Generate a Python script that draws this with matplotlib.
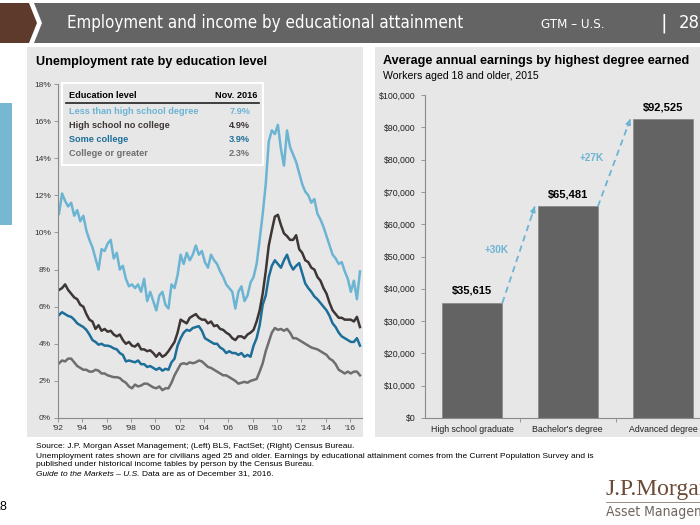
import numpy as np
import pandas as pd
import matplotlib
matplotlib.use('Agg')
import matplotlib.pyplot as plt
from matplotlib.patches import Rectangle, Polygon

plt.rcParams['font.family'] = ['Liberation Sans', 'DejaVu Sans']

W, H = 700, 525

# unemployment rate, civilians 25+, every 3 months (Feb 1992 - Nov 2016)
dates = pd.date_range('1992-02-01', '2016-11-01', freq='3MS')
less_than_hs = [11.0, 12.1, 11.7, 11.4, 11.6, 10.9, 11.2, 10.6, 10.9, 10.1, 9.6, 9.2,
                8.6, 8.0, 9.1, 9.0, 9.4, 9.6, 8.6, 8.9, 8.0, 8.2, 7.5, 7.1,
                7.2, 7.0, 7.2, 6.8, 7.5, 6.3, 6.8, 6.3, 5.8, 6.6, 6.8, 6.1,
                5.9, 7.2, 7.0, 7.7, 8.8, 8.3, 8.9, 8.5, 8.8, 9.3, 8.8, 9.0,
                8.4, 8.1, 8.8, 8.5, 8.3, 7.9, 7.6, 7.2, 7.0, 6.8, 5.9, 6.8,
                7.1, 6.3, 6.6, 7.3, 7.6, 8.3, 9.6, 11.0, 12.6, 14.9, 15.5, 15.3,
                15.8, 14.5, 13.6, 15.5, 14.6, 14.2, 13.8, 13.2, 12.6, 12.2, 12.0, 11.6,
                11.8, 11.0, 10.7, 10.3, 9.8, 9.3, 8.8, 8.6, 8.3, 8.4, 7.9, 7.5,
                6.8, 7.4, 6.4, 7.9]
hs_no_college = [6.9, 7.0, 7.2, 6.9, 6.7, 6.5, 6.4, 6.1, 6.0, 5.6, 5.3, 5.2,
                 4.8, 5.0, 4.7, 4.8, 4.65, 4.7, 4.5, 4.4, 4.5, 4.2, 4.0, 4.1,
                 3.9, 3.85, 4.0, 3.7, 3.7, 3.6, 3.65, 3.5, 3.3, 3.5, 3.3, 3.4,
                 3.6, 3.85, 4.1, 4.6, 5.3, 5.2, 5.1, 5.4, 5.5, 5.6, 5.4, 5.3,
                 5.3, 5.1, 5.2, 4.95, 5.0, 4.8, 4.75, 4.6, 4.5, 4.3, 4.2, 4.4,
                 4.4, 4.3, 4.5, 4.6, 4.75, 5.2, 5.8, 6.7, 7.9, 9.3, 10.1, 10.85,
                 10.95, 10.4, 9.95, 9.8, 9.6, 9.6, 9.85, 9.1, 8.9, 8.5, 8.4, 8.1,
                 8.0, 7.6, 7.4, 7.0, 6.7, 6.2, 5.8, 5.6, 5.4, 5.4, 5.3, 5.3,
                 5.3, 5.2, 5.45, 4.9]
some_college = [5.55, 5.7, 5.6, 5.5, 5.45, 5.3, 5.1, 5.0, 4.9, 4.75, 4.5, 4.2,
                4.1, 3.95, 4.0, 3.9, 3.9, 3.85, 3.75, 3.7, 3.5, 3.4, 3.05, 3.1,
                3.05, 3.0, 3.1, 2.9, 2.9, 2.75, 2.8, 2.7, 2.6, 2.7, 2.55, 2.65,
                2.6, 3.0, 3.2, 3.9, 4.3, 4.6, 4.75, 4.7, 4.85, 4.9, 4.95, 4.7,
                4.3, 4.2, 4.1, 4.0, 4.0, 3.8, 3.7, 3.5, 3.6, 3.5, 3.5, 3.4,
                3.5, 3.3, 3.4, 3.3, 3.9, 4.3, 5.0, 6.1, 6.6, 7.6, 8.2, 8.5,
                8.3, 8.1, 8.5, 8.8, 8.3, 8.0, 8.2, 8.35, 7.8, 7.25, 7.0, 6.8,
                6.55, 6.4, 6.2, 6.0, 5.8, 5.5, 5.1, 4.9, 4.6, 4.4, 4.3, 4.2,
                4.1, 4.1, 4.3, 3.9]
college = [2.95, 3.1, 3.05, 3.2, 3.2, 3.0, 2.8, 2.7, 2.6, 2.6, 2.5, 2.5,
           2.6, 2.55, 2.4, 2.4, 2.3, 2.25, 2.2, 2.2, 2.15, 2.0, 1.9, 1.7,
           1.6, 1.8, 1.7, 1.75, 1.85, 1.85, 1.75, 1.65, 1.6, 1.7, 1.5, 1.6,
           1.6, 1.9, 2.3, 2.6, 2.9, 2.95, 2.9, 3.0, 2.95, 3.0, 3.1, 3.05,
           2.9, 2.75, 2.7, 2.6, 2.5, 2.4, 2.3, 2.3, 2.2, 2.1, 2.0, 1.85,
           1.9, 1.95, 1.9, 2.0, 2.05, 2.1, 2.5, 2.95, 3.6, 4.1, 4.6, 4.85,
           4.75, 4.8, 4.7, 4.8, 4.6, 4.3, 4.3, 4.2, 4.1, 4.0, 3.9, 3.8,
           3.75, 3.7, 3.6, 3.5, 3.4, 3.2, 3.1, 2.9, 2.6, 2.5, 2.4, 2.5,
           2.4, 2.5, 2.5, 2.3]

series_names = ['Less than high school degree', 'High school no college',
                'Some college', 'College or greater']
latest = ['7.9%', '4.9%', '3.9%', '2.3%']
colors = ['#6cb4d3', '#3e3635', '#1d6e98', '#6e6e6e']

# average annual earnings, 2015
degrees = ['High school graduate', "Bachelor's degree", 'Advanced degree']
earnings = [35615, 65481, 92525]
steps = ['+30K', '+27K']


def fx(x):
    return x / W


def fy(y):
    return 1 - y / H


def fit_width(t, width_px):
    # shrink a header text so it spans the same width as in the original slide
    r = fig.canvas.get_renderer()
    w = t.get_window_extent(renderer=r).width
    t.set_fontsize(t.get_fontsize() * width_px / w)


fig = plt.figure(figsize=(7, 5.25), dpi=100)
fig.patch.set_facecolor('white')

# header band
fig.patches.append(Polygon([(fx(0), fy(3)), (fx(29), fy(3)), (fx(37), fy(23)),
                            (fx(29), fy(43)), (fx(0), fy(43))],
                           closed=True, transform=fig.transFigure,
                           facecolor='#5d3a2b', edgecolor='none', zorder=-1))
fig.patches.append(Polygon([(fx(34), fy(3)), (fx(700), fy(3)), (fx(700), fy(43)),
                            (fx(34), fy(43)), (fx(42), fy(23))],
                           closed=True, transform=fig.transFigure,
                           facecolor='#646464', edgecolor='none', zorder=-1))
hdr_font = ['DejaVu Sans']
title = fig.text(fx(67), fy(23), 'Employment and income by educational attainment',
                 color='white', fontsize=14, family=hdr_font, stretch='condensed',
                 va='center')
gtm = fig.text(fx(541), fy(24), 'GTM – U.S.', color='white', fontsize=10,
               family=hdr_font, stretch='condensed', va='center')
fig.text(fx(664), fy(23), '|', color='white', fontsize=14, family=hdr_font,
         va='center', ha='center')
page = fig.text(fx(679), fy(23), '28', color='white', fontsize=14, family=hdr_font,
                stretch='condensed', va='center')
fit_width(title, 400)
fit_width(gtm, 64)
fit_width(page, 21)

# side tab and panels
fig.patches.append(Rectangle((fx(0), fy(225)), fx(12), 122 / H,
                             transform=fig.transFigure, facecolor='#78b7d2',
                             edgecolor='none', zorder=-1))
fig.patches.append(Rectangle((fx(27), fy(437)), fx(336), 390 / H,
                             transform=fig.transFigure, facecolor='#e7e7e7',
                             edgecolor='none', zorder=-1))
fig.patches.append(Rectangle((fx(375), fy(437)), fx(330), 390 / H,
                             transform=fig.transFigure, facecolor='#e7e7e7',
                             edgecolor='none', zorder=-1))

# ---- left: unemployment rate ----
ax1 = fig.add_axes([fx(58), fy(418), fx(304), 334 / H])
ax1.set_facecolor('none')
x = dates.year + (dates.month - 1) / 12
for vals, c in zip([less_than_hs, college, some_college, hs_no_college],
                   [colors[0], colors[3], colors[2], colors[1]]):
    ax1.plot(x, vals, color=c, lw=1.8, solid_joinstyle='round')
ax1.set_xlim(1992, 2017)
ax1.set_ylim(0, 18)
ax1.set_yticks(np.arange(0, 19, 2))
ax1.set_yticklabels([f'{v}%' for v in range(0, 19, 2)])
yrs = np.arange(1992, 2017, 2)
ax1.set_xticks(yrs)
ax1.set_xticklabels([f"'{y % 100:02d}" for y in yrs])
for s in ['top', 'right']:
    ax1.spines[s].set_visible(False)
for s in ['left', 'bottom']:
    ax1.spines[s].set_color('#8a8a8a')
    ax1.spines[s].set_linewidth(0.8)
ax1.tick_params(length=3, width=0.6, color='#8a8a8a', labelsize=6,
                labelcolor='#333333', pad=2)

fig.text(fx(36), fy(62), 'Unemployment rate by education level',
         fontsize=9.1, fontweight='bold', va='center')

# legend table
fig.patches.append(Rectangle((fx(62), fy(165)), fx(201), 82 / H,
                             transform=fig.transFigure, facecolor='#e7e7e7',
                             edgecolor='white', lw=1.5, zorder=1))
fig.text(fx(69), fy(95), 'Education level', fontsize=6.6, fontweight='bold',
         va='center', zorder=3)
fig.text(fx(257), fy(95), 'Nov. 2016', fontsize=6.6, fontweight='bold',
         va='center', ha='right', zorder=3)
fig.lines.append(plt.Line2D([fx(66), fx(259)], [fy(103), fy(103)],
                            transform=fig.transFigure, color='#222222', lw=1.2))
for i, (name, val, c) in enumerate(zip(series_names, latest, colors)):
    yy = 112 + i * 14
    fig.text(fx(69), fy(yy), name, fontsize=6.6, fontweight='bold', color=c,
             va='center', zorder=3)
    fig.text(fx(250), fy(yy), val, fontsize=6.6, fontweight='bold', color=c,
             va='center', ha='right', zorder=3)

# ---- right: earnings ----
ax2 = fig.add_axes([fx(424.5), fy(418), 286.5 / W, 323 / H])
ax2.set_facecolor('none')
pos = np.arange(len(degrees))
bw = 0.63
ax2.bar(pos, earnings, width=bw, color='#636363', edgecolor='#8a8a8a', lw=0.6)
for p, v in zip(pos, earnings):
    ax2.text(p, v + 2200, f'${v:,}', ha='center', va='bottom', fontsize=8,
             fontweight='bold')
arrow_c = '#6cb4d3'
for i, lab in enumerate(steps):
    x0, y0 = pos[i] + bw / 2, earnings[i]
    x1, y1 = pos[i + 1] - bw / 2 - 0.03, earnings[i + 1]
    ax2.plot([x0, x1], [y0, y1], color=arrow_c, lw=1.3, ls=(0, (3.5, 2.5)))
    ax2.annotate('', xy=(x1, y1),
                 xytext=(x1 - (x1 - x0) * 0.08, y1 - (y1 - y0) * 0.08),
                 arrowprops=dict(arrowstyle='-|>', color=arrow_c, lw=1.0,
                                 mutation_scale=8, shrinkA=0, shrinkB=0))
    ax2.text((x0 + x1) / 2 - 0.23, (y0 + y1) / 2 + 1500, lab, color=arrow_c,
             fontsize=7.2, fontweight='bold', ha='center', va='center')
ax2.set_xlim(-0.5, 2.5)
ax2.set_ylim(0, 100000)
ax2.set_yticks(np.arange(0, 100001, 10000))
ax2.set_yticklabels([f'${v:,}' for v in range(0, 100001, 10000)])
ax2.set_xticks(pos)
ax2.set_xticklabels(degrees)
ax2.set_xticks([0.5, 1.5], minor=True)
ax2.tick_params(axis='x', which='major', length=0, pad=5)
ax2.tick_params(axis='x', which='minor', length=3, width=0.6, color='#8a8a8a')
ax2.tick_params(axis='y', length=3, width=0.6, color='#8a8a8a')
ax2.tick_params(labelsize=6.3, labelcolor='#222222')
for s in ['top', 'right']:
    ax2.spines[s].set_visible(False)
for s in ['left', 'bottom']:
    ax2.spines[s].set_color('#8a8a8a')
    ax2.spines[s].set_linewidth(0.8)

fig.text(fx(383), fy(61), 'Average annual earnings by highest degree earned',
         fontsize=9.1, fontweight='bold', va='center')
fig.text(fx(383), fy(76), 'Workers aged 18 and older, 2015', fontsize=7.6,
         va='center')

# footnotes
notes = ['Source: J.P. Morgan Asset Management; (Left) BLS, FactSet; (Right) Census Bureau.',
         'Unemployment rates shown are for civilians aged 25 and older. Earnings by educational '
         'attainment comes from the Current Population Survey and is',
         'published under historical income tables by person by the Census Bureau.']
for i, t in enumerate(notes):
    fig.text(fx(36), fy(447 + i * 9), t, fontsize=6.0, va='center')
guide = fig.text(fx(36), fy(474), 'Guide to the Markets – U.S.', fontsize=6.0,
                 va='center', style='italic')
gw = guide.get_window_extent(renderer=fig.canvas.get_renderer()).width
fig.text(fx(36 + gw + 2), fy(474), 'Data are as of December 31, 2016.',
         fontsize=6.0, va='center')

fig.text(fx(7), fy(507), '28', fontsize=9, ha='right', va='center')

# logo
fig.text(fx(605), fy(489), 'J.P.Morgan', fontsize=17,
         family=['Liberation Serif', 'DejaVu Serif'], color='#6b4a37', va='center')
fig.lines.append(plt.Line2D([fx(606), fx(700)], [fy(502), fy(502)],
                            transform=fig.transFigure, color='#8a7a70', lw=0.6))
fig.text(fx(606), fy(512), 'Asset Management', fontsize=10, family=hdr_font,
         stretch='condensed', color='#6e6560', va='center')

fig.savefig('out.png', dpi=100)
